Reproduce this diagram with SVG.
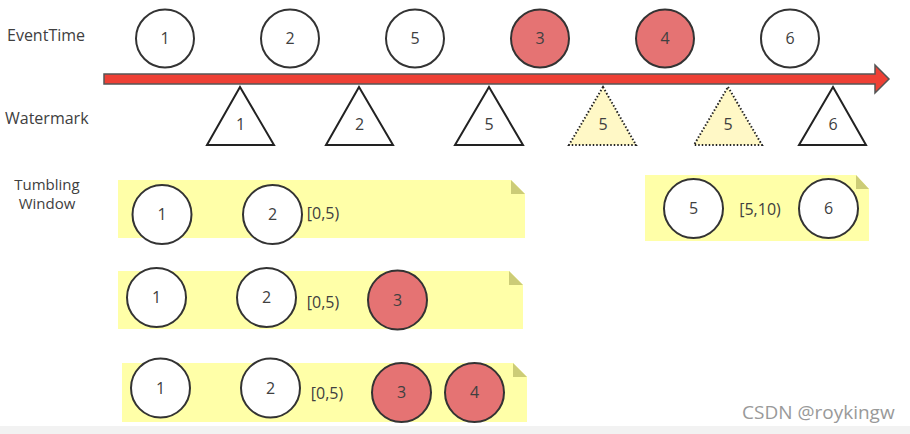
<svg xmlns="http://www.w3.org/2000/svg" width="910" height="434" viewBox="0 0 910 434">
<style>
text{font-family:"Open Sans","Noto Sans","Liberation Sans",sans-serif;fill:#404040}
.lbl{font-size:16px}
.num{font-size:16px;text-anchor:middle}
.c{fill:#fff;stroke:#333;stroke-width:2}
.r{fill:#E57373;stroke:#333;stroke-width:2}
.t{fill:#fff;stroke:#222;stroke-width:2}
.td{fill:#FFF8C6;stroke:#222;stroke-width:2;stroke-dasharray:1.5 2}
.win{fill:#FFFFA8}
.fold{fill:#CCCC77}
</style>
<rect x="0" y="426" width="910" height="8" fill="#F2F2F2"/>
<g id="labels">
<text class="lbl" x="7" y="41">EventTime</text>
<text class="lbl" x="5" y="124">Watermark</text>
<text x="47" y="190" text-anchor="middle" style="font-size:15px">Tumbling</text>
<text x="47" y="209" text-anchor="middle" style="font-size:15px">Window</text>
</g>
<g id="connectors">
<path d="M104,74 H875 V65 L889,79 L875,93 V84 H104 Z" fill="#EE4035" stroke="#555" stroke-width="1.5"/>
</g>
<g id="event-1"><circle class="c" cx="165" cy="38.5" r="29"/><text class="num" x="165" y="44">1</text></g>
<g id="event-2"><circle class="c" cx="290" cy="38.5" r="29"/><text class="num" x="290" y="44">2</text></g>
<g id="event-5"><circle class="c" cx="415" cy="38.5" r="29"/><text class="num" x="415" y="44">5</text></g>
<g id="event-3"><circle class="r" cx="540" cy="38.5" r="29"/><text class="num" x="540" y="44">3</text></g>
<g id="event-4"><circle class="r" cx="665" cy="38.5" r="29"/><text class="num" x="665" y="44">4</text></g>
<g id="event-6"><circle class="c" cx="790" cy="38.5" r="29"/><text class="num" x="790" y="44">6</text></g>
<g id="wm-1"><polygon class="t" points="240,87 274,145 207,145"/><text class="num" x="240.5" y="130">1</text></g>
<g id="wm-2"><polygon class="t" points="359,87 393,145 326,145"/><text class="num" x="359.5" y="130">2</text></g>
<g id="wm-5a"><polygon class="t" points="489,87 523,145 455,145"/><text class="num" x="489" y="130">5</text></g>
<g id="wm-5b"><polygon class="td" points="603,87 636,145 569,145"/><text class="num" x="603" y="130">5</text></g>
<g id="wm-5c"><polygon class="td" points="728,87 762,145 694,145"/><text class="num" x="728" y="130">5</text></g>
<g id="wm-6"><polygon class="t" points="833,87 866,145 799,145"/><text class="num" x="833" y="130">6</text></g>
<g id="window-1">
<polygon class="win" points="118,180 511,180 525,194 525,238 118,238"/>
<polygon class="fold" points="511,180 525,194 511,194"/>
<circle class="c" cx="162" cy="214.5" r="29.5"/><text class="num" x="162" y="220">1</text>
<circle class="c" cx="272.5" cy="214.5" r="29.5"/><text class="num" x="272.5" y="220">2</text>
<text class="num" x="323" y="219">[0,5)</text>
</g>
<g id="window-2">
<polygon class="win" points="645,175 856,175 869,189 869,241 645,241"/>
<polygon class="fold" points="856,175 869,189 856,189"/>
<circle class="c" cx="693.5" cy="208.5" r="29.5"/><text class="num" x="693.5" y="214">5</text>
<text class="num" x="760" y="215">[5,10)</text>
<circle class="c" cx="828.5" cy="208.5" r="29.5"/><text class="num" x="828.5" y="214">6</text>
</g>
<g id="window-3">
<polygon class="win" points="118,271 509,271 523,285 523,329 118,329"/>
<polygon class="fold" points="509,271 523,285 509,285"/>
<circle class="c" cx="156.5" cy="297.5" r="29.5"/><text class="num" x="156.5" y="303">1</text>
<circle class="c" cx="266.5" cy="297.5" r="29.5"/><text class="num" x="266.5" y="303">2</text>
<text class="num" x="323" y="308">[0,5)</text>
<circle class="r" cx="397.5" cy="300" r="29.5"/><text class="num" x="397.5" y="306">3</text>
</g>
<g id="window-4">
<polygon class="win" points="122,363 513,363 527,377 527,422 122,422"/>
<polygon class="fold" points="513,363 527,377 513,377"/>
<circle class="c" cx="160.5" cy="388" r="29.5"/><text class="num" x="160.5" y="394">1</text>
<circle class="c" cx="270.5" cy="388" r="29.5"/><text class="num" x="270.5" y="394">2</text>
<text class="num" x="327" y="399">[0,5)</text>
<circle class="r" cx="401.5" cy="392.5" r="29.5"/><text class="num" x="401.5" y="398">3</text>
<circle class="r" cx="474.5" cy="392.5" r="29.5"/><text class="num" x="474.5" y="398">4</text>
</g>
<text x="742" y="419" style="font-size:19px;fill:#999">CSDN @roykingw</text>
</svg>
